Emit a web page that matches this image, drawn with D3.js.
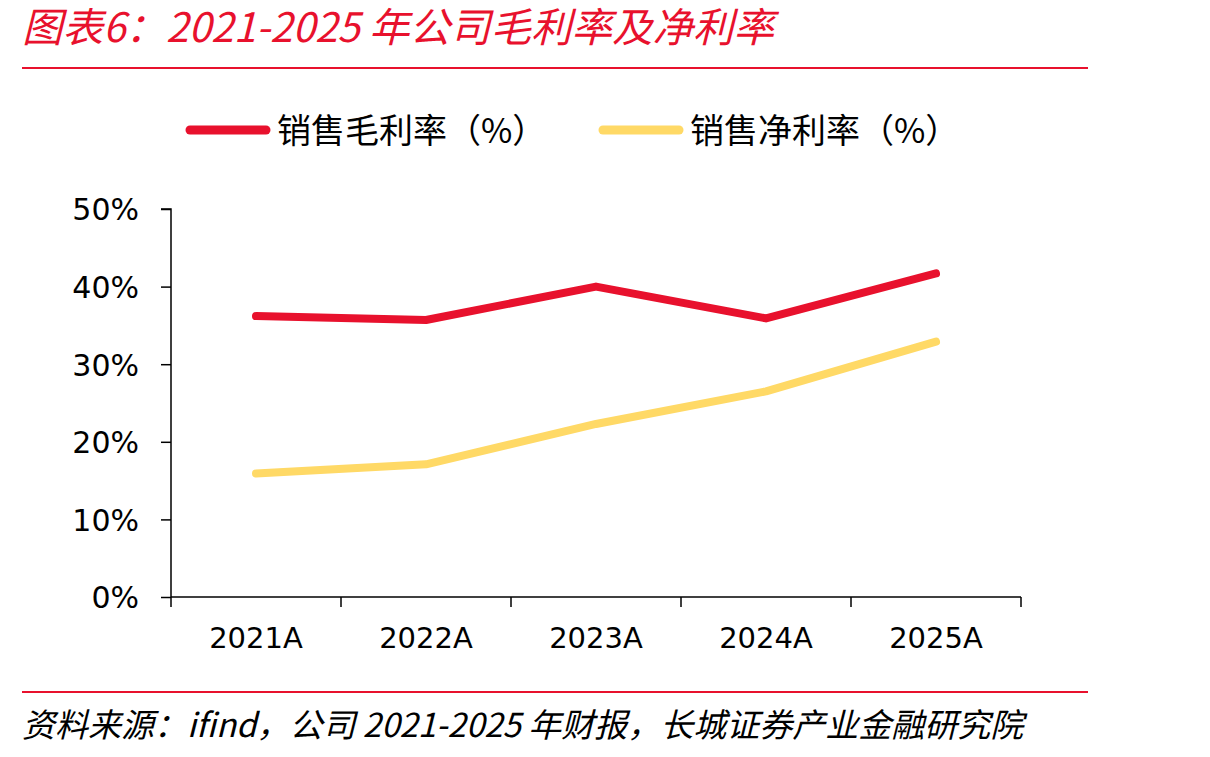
<!DOCTYPE html>
<html>
<head>
<meta charset="utf-8">
<script src="https://cdn.jsdelivr.net/npm/d3@7"></script>
<style>
  body { margin: 0; background: #fff; }
  svg { display: block; }
  .cjk { font-family: "Noto Sans CJK SC", sans-serif; }
  .tick text { font-family: "DejaVu Sans", Verdana, sans-serif; fill: #000; }
</style>
</head>
<body>
<svg id="chart" width="1210" height="757"></svg>
<script>
// Data
const years = ['2021A', '2022A', '2023A', '2024A', '2025A'];
const grossMargin = [36.2, 35.7, 40.0, 35.9, 41.7];
const netMargin = [15.9, 17.1, 22.3, 26.5, 32.9];
const yTicks = [0, 10, 20, 30, 40, 50];
const seriesNames = ['销售毛利率（%）', '销售净利率（%）'];

const red = '#e8112d';
const yellow = '#ffd966';

const svg = d3.select('#chart');

// Title and top rule
svg.append('text')
  .attr('class', 'cjk')
  .attr('x', 22)
  .attr('y', 42)
  .attr('fill', red)
  .style('font-size', '40.5px')
  .style('font-style', 'italic')
  .text('图表6：2021-2025 年公司毛利率及净利率');

svg.append('line')
  .attr('x1', 22).attr('x2', 1088)
  .attr('y1', 68).attr('y2', 68)
  .attr('stroke', red)
  .attr('stroke-width', 2);

// Plot area
const margin = { left: 171, right: 1021, top: 209, bottom: 597 };

const x = d3.scaleBand()
  .domain(years)
  .range([margin.left, margin.right]);

const y = d3.scaleLinear()
  .domain([0, 50])
  .range([margin.bottom, margin.top]);

// Y axis
const yAxis = d3.axisLeft(y)
  .tickValues(yTicks)
  .tickSize(10)
  .tickPadding(22)
  .tickFormat(d => `${d}%`);

svg.append('g')
  .attr('transform', `translate(${margin.left},0)`)
  .call(yAxis)
  .call(g => g.select('.domain').attr('stroke-width', 1.5).attr('d', `M-10,${margin.top}H0V${margin.bottom}`))
  .call(g => g.selectAll('.tick line').attr('stroke-width', 1.5))
  .call(g => g.selectAll('.tick text').style('font-size', '30px').attr('dy', '0.36em'));

// X axis with ticks on band boundaries
const xAxis = d3.axisBottom(x).tickSize(0).tickPadding(30);

const gx = svg.append('g')
  .attr('transform', `translate(0,${margin.bottom})`)
  .call(xAxis)
  .call(g => g.select('.domain').attr('stroke-width', 1.5).attr('d', `M${margin.left},0H${margin.right}`))
  .call(g => g.selectAll('.tick text').style('font-size', '29px'));

const boundaries = years.map(d => x(d)).concat([x.range()[1]]);
gx.selectAll('line.bound')
  .data(boundaries)
  .enter().append('line')
  .attr('class', 'bound')
  .attr('x1', d => d).attr('x2', d => d)
  .attr('y1', 0).attr('y2', 10)
  .attr('stroke', '#000')
  .attr('stroke-width', 1.5);

// Lines
const line = d3.line()
  .x((d, i) => x(years[i]) + x.bandwidth() / 2)
  .y(d => y(d));

[[netMargin, yellow], [grossMargin, red]].forEach(([values, color]) => {
  svg.append('path')
    .datum(values)
    .attr('fill', 'none')
    .attr('stroke', color)
    .attr('stroke-width', 8)
    .attr('stroke-linecap', 'round')
    .attr('stroke-linejoin', 'round')
    .attr('d', line);
});

// Legend
const legendItems = [
  { name: seriesNames[0], color: red, x: 190 },
  { name: seriesNames[1], color: yellow, x: 603 },
];

const legend = svg.selectAll('g.legend')
  .data(legendItems)
  .enter().append('g')
  .attr('class', 'legend')
  .attr('transform', d => `translate(${d.x},130)`);

legend.append('line')
  .attr('x1', 0).attr('x2', 76)
  .attr('stroke', d => d.color)
  .attr('stroke-width', 9)
  .attr('stroke-linecap', 'round');

legend.append('text')
  .attr('class', 'cjk')
  .attr('x', 87)
  .attr('y', 13)
  .style('font-size', '34px')
  .text(d => d.name);

// Footer
svg.append('line')
  .attr('x1', 22).attr('x2', 1088)
  .attr('y1', 692).attr('y2', 692)
  .attr('stroke', red)
  .attr('stroke-width', 2);

svg.append('text')
  .attr('class', 'cjk')
  .attr('x', 22)
  .attr('y', 737)
  .style('font-size', '33px')
  .style('font-style', 'italic')
  .text('资料来源：ifind，公司 2021-2025 年财报，长城证券产业金融研究院');
</script>
</body>
</html>
